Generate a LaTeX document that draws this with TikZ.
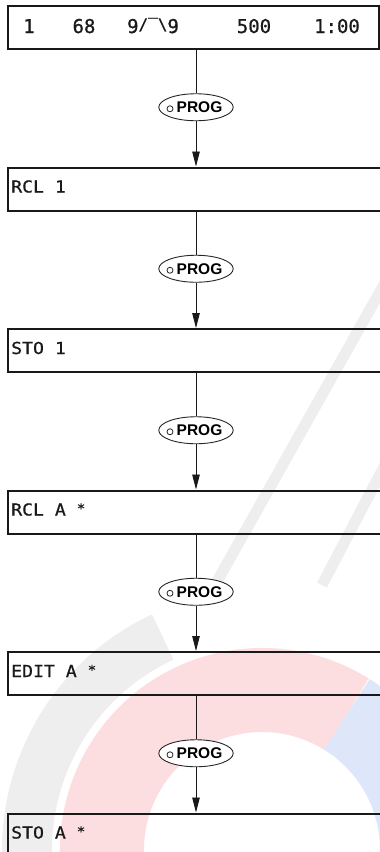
\documentclass[tikz,border=0pt]{standalone}
\usepackage{fontspec}
\setmainfont{Liberation Sans}
\newfontfamily\lcd[FakeStretch=1.1,FakeBold=0.8]{DejaVu Sans Mono}
\newfontfamily\lcdbig[FakeBold=0.8]{DejaVu Sans Mono}
\usetikzlibrary{shapes.geometric,arrows.meta}
\definecolor{wmred}{RGB}{253,222,224}
\definecolor{wmgray}{RGB}{238,238,238}
\definecolor{wmblue}{RGB}{222,231,249}
\tikzset{
  dispbox/.style={draw=black!90, line width=2pt, rectangle, anchor=north west, minimum height=43pt, inner sep=0pt},
  boxtext/.style={anchor=base west, inner sep=0pt, font=\lcd\fontsize{16.5}{16.5}\selectfont, text=black!90},
  toptext/.style={anchor=base, inner sep=0pt, font=\lcdbig\fontsize{19}{19}\selectfont, text=black!90},
  key/.style={draw=black!85, line width=0.9pt, ellipse, minimum width=67pt, minimum height=27pt, inner sep=0pt, fill=white, font=\bfseries\fontsize{15.5}{15.5}\selectfont},
  keydot/.style={draw=black!85, line width=0.8pt, circle, minimum size=6pt, inner sep=0pt},
  link/.style={draw=black!90, line width=0.9pt},
  arrowlink/.style={link, -{Triangle[length=15pt,width=7.5pt]}}
}
\newcommand{\astx}{\raisebox{2.5pt}{\fontsize{13}{13}\selectfont *}}
\begin{document}
\begin{tikzpicture}[x=1pt,y=-1pt]
\useasboundingbox (0,0) rectangle (380,852);
\clip (0,0) rectangle (380,852);
\fill[white] (0,0) rectangle (380,852);
% faint watermark
\draw[wmgray, line width=50pt] (262,850) ++(-115:235) arc[start angle=-115, end angle=-270, radius=235];
\draw[wmred, line width=84pt] (262,850) ++(-58:160) arc[start angle=-58, end angle=-270, radius=160];
\draw[wmblue, line width=84pt] (262,850) ++(-58:160) arc[start angle=-58, end angle=40, radius=160];
\draw[wmgray, line width=11pt] (395,265) -- (215,585);
\draw[wmgray, line width=11pt] (398,440) -- (322,585);
% boxes
\node[dispbox, minimum width=371pt] (b1) at (7,5) {};
\node[dispbox, minimum width=400pt] (b2) at (7,166.5) {};
\node[dispbox, minimum width=400pt] (b3) at (7,328) {};
\node[dispbox, minimum width=400pt] (b4) at (7,489.5) {};
\node[dispbox, minimum width=400pt] (b5) at (7,651) {};
\node[dispbox, minimum width=400pt] (b6) at (7,812.5) {};
% top display texts
\node[toptext] (t1) at (29,33) {1};
\node[toptext] (t2) at (84,33) {68};
\node[toptext] (t3) at (153,33) {9{\fontsize{16}{16}\selectfont\raisebox{3pt}{/‾\textbackslash}}9};
\node[toptext] (t4) at (254,33) {500};
\node[toptext] (t5) at (337,33) {1:00};
% box texts
\node[boxtext] (l2) at (11,192.5) {RCL 1};
\node[boxtext] (l3) at (11,354) {STO 1};
\node[boxtext] (l4) at (11,515.5) {RCL A \astx};
\node[boxtext] (l5) at (11,677) {EDIT A \astx};
\node[boxtext] (l6) at (11,838.5) {STO A \astx};
% keys
\foreach \i/\y in {1/107.25, 2/268.75, 3/430.25, 4/591.75, 5/753.25}{
  \node[key] (e\i) at (196,\y) {\hspace*{7pt}PROG};
  \node[keydot] (d\i) at (170,\y+1.5) {};
}
% connectors
\foreach \a/\k/\b in {b1/e1/b2, b2/e2/b3, b3/e3/b4, b4/e4/b5, b5/e5/b6}{
  \draw[link] (\k.north |- \a.south) -- (\k.north);
  \draw[arrowlink] (\k.south) -- (\k.south |- \b.north);
}
\end{tikzpicture}
\end{document}
